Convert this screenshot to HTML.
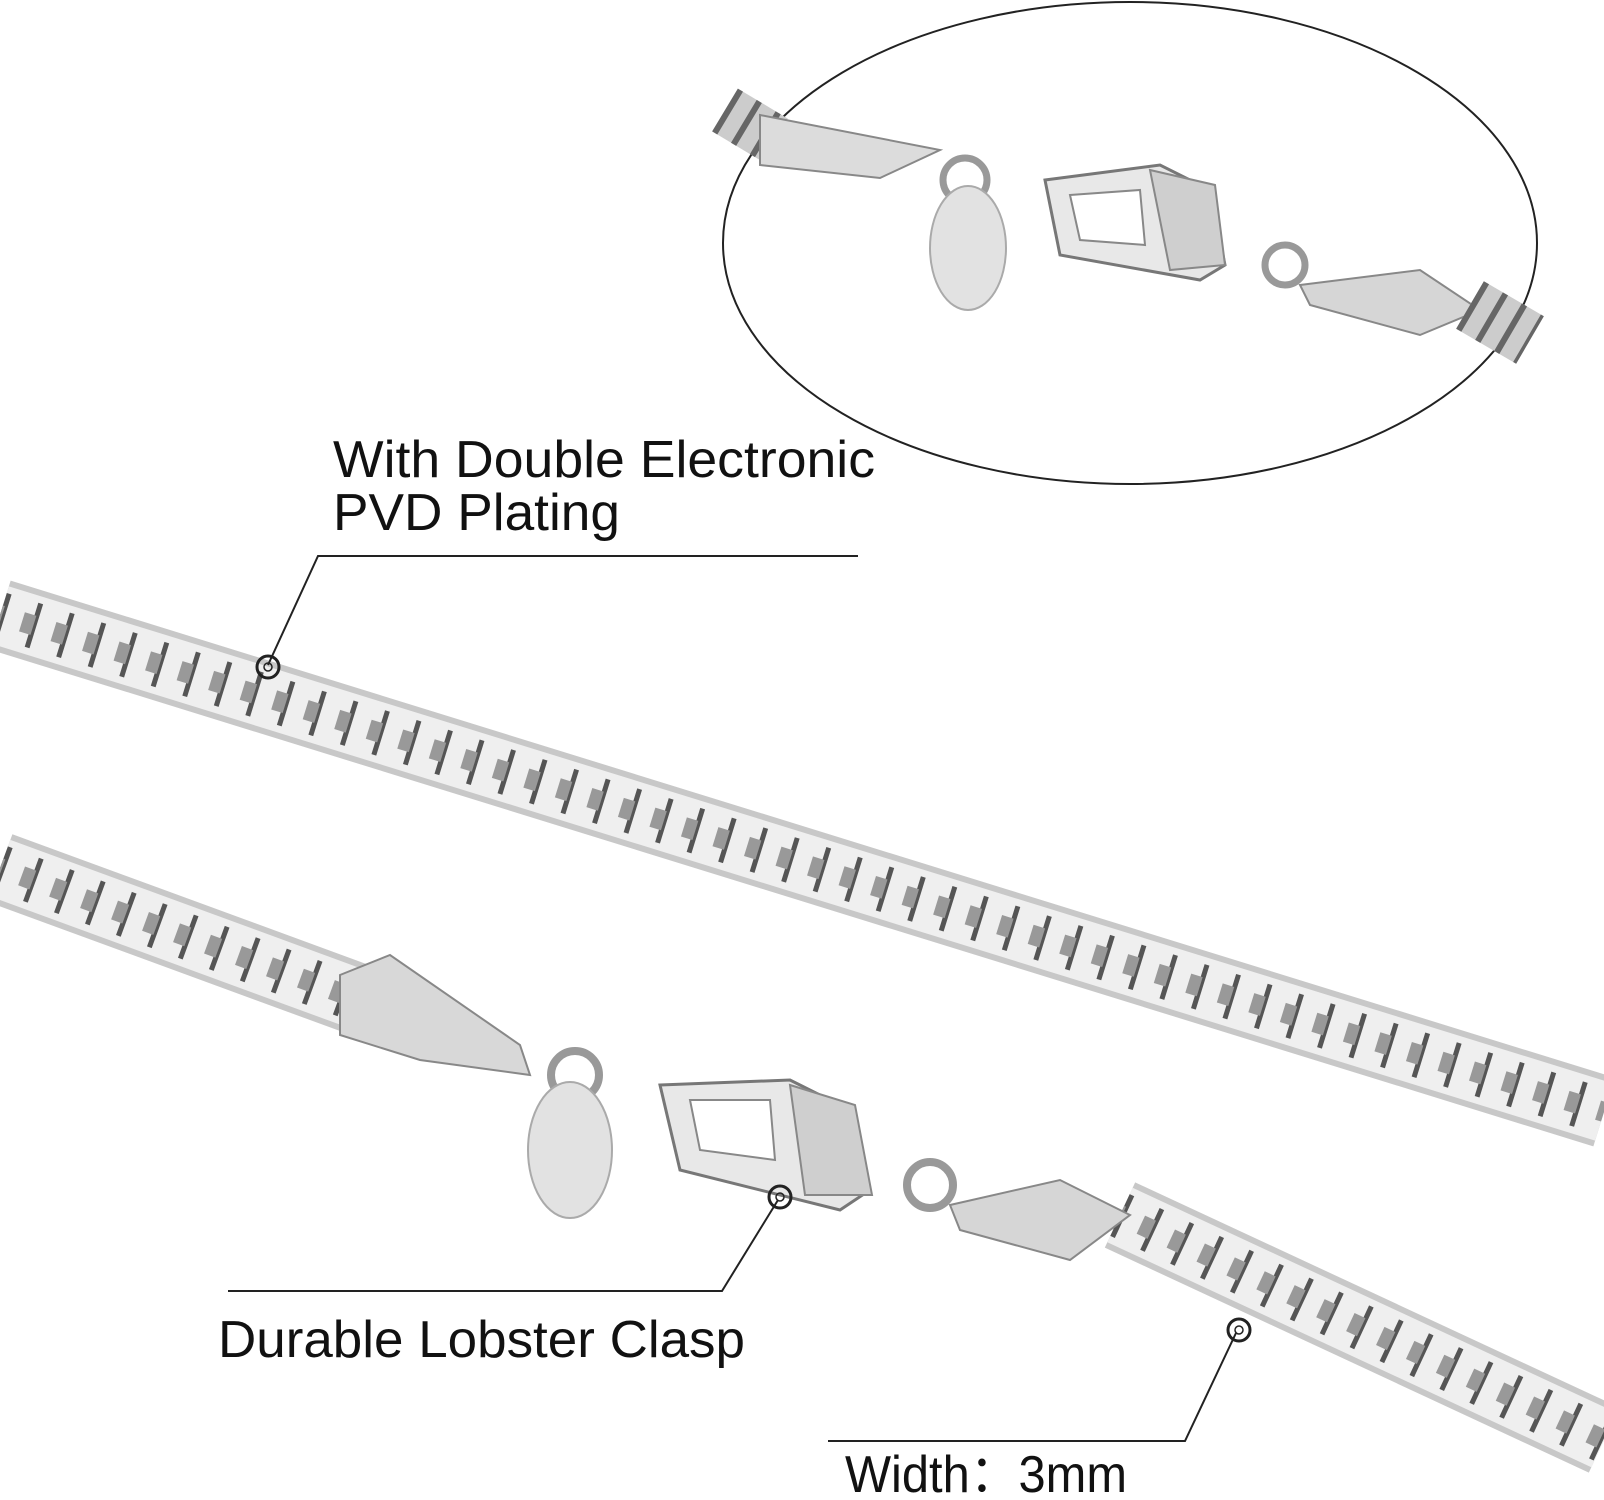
<!DOCTYPE html>
<html><head><style>
html,body{margin:0;padding:0;background:#fff}
svg{display:block}
text{font-family:"Liberation Sans",sans-serif;fill:#111}
</style></head><body>
<svg width="1604" height="1500" viewBox="0 0 1604 1500" xmlns="http://www.w3.org/2000/svg">
<ellipse cx="1130" cy="243" rx="407" ry="241" fill="none" stroke="#222" stroke-width="2"/>
<g>
<path d="M725,110 L775,140" stroke="#ccc" stroke-width="50" fill="none"/>
<path d="M725,110 L775,140" stroke="#666" stroke-width="50" stroke-dasharray="6 16" fill="none"/>
<path d="M760,115 L940,150 L880,178 L760,165 Z" fill="#dcdcdc" stroke="#888" stroke-width="2"/>
<circle cx="965" cy="180" r="22" fill="none" stroke="#999" stroke-width="7"/>
<ellipse cx="968" cy="248" rx="38" ry="62" fill="#e2e2e2" stroke="#aaa" stroke-width="2"/>
<path d="M1045,180 L1160,165 L1210,190 L1225,265 L1200,280 L1060,255 Z" fill="#e8e8e8" stroke="#777" stroke-width="3"/>
<path d="M1070,195 L1140,190 L1145,245 L1080,240 Z" fill="#fff" stroke="#888" stroke-width="2"/>
<path d="M1150,170 L1215,185 L1225,265 L1170,270 Z" fill="#cfcfcf" stroke="#888" stroke-width="2"/>
<circle cx="1285" cy="265" r="20" fill="none" stroke="#999" stroke-width="7"/>
<path d="M1300,285 L1420,270 L1480,310 L1420,335 L1310,305 Z" fill="#d6d6d6" stroke="#888" stroke-width="2"/>
<path d="M1470,305 L1530,340" stroke="#ccc" stroke-width="55" fill="none"/>
<path d="M1470,305 L1530,340" stroke="#666" stroke-width="55" stroke-dasharray="6 16" fill="none"/>
</g>
<path d="M0,615 L1604,1112" stroke="#c8c8c8" stroke-width="72" fill="none"/>
<path d="M0,615 L1604,1112" stroke="#efefef" stroke-width="60" fill="none"/>
<path d="M0,615 L1604,1112" stroke="#555" stroke-width="46" stroke-dasharray="5 28" fill="none"/>
<path d="M0,615 L1604,1112" stroke="#999" stroke-width="20" stroke-dasharray="12 21" stroke-dashoffset="10" fill="none"/>
<path d="M0,868 L360,1000" stroke="#c8c8c8" stroke-width="72" fill="none"/>
<path d="M0,868 L360,1000" stroke="#efefef" stroke-width="60" fill="none"/>
<path d="M0,868 L360,1000" stroke="#555" stroke-width="46" stroke-dasharray="5 28" fill="none"/>
<path d="M0,868 L360,1000" stroke="#999" stroke-width="20" stroke-dasharray="12 21" stroke-dashoffset="10" fill="none"/>
<path d="M1120,1215 L1604,1440" stroke="#c8c8c8" stroke-width="72" fill="none"/>
<path d="M1120,1215 L1604,1440" stroke="#efefef" stroke-width="60" fill="none"/>
<path d="M1120,1215 L1604,1440" stroke="#555" stroke-width="46" stroke-dasharray="5 28" fill="none"/>
<path d="M1120,1215 L1604,1440" stroke="#999" stroke-width="20" stroke-dasharray="12 21" stroke-dashoffset="10" fill="none"/>
<path d="M340,975 L390,955 L520,1045 L530,1075 L420,1060 L340,1035 Z" fill="#d8d8d8" stroke="#888" stroke-width="2"/>
<circle cx="575" cy="1075" r="24" fill="none" stroke="#999" stroke-width="8"/>
<ellipse cx="570" cy="1150" rx="42" ry="68" fill="#e2e2e2" stroke="#aaa" stroke-width="2"/>
<path d="M660,1085 L790,1080 L850,1110 L870,1190 L840,1210 L680,1170 Z" fill="#e8e8e8" stroke="#777" stroke-width="3"/>
<path d="M690,1100 L770,1100 L775,1160 L700,1150 Z" fill="#fff" stroke="#888" stroke-width="2"/>
<path d="M790,1085 L855,1105 L872,1195 L805,1195 Z" fill="#cfcfcf" stroke="#888" stroke-width="2"/>
<circle cx="930" cy="1185" r="23" fill="none" stroke="#999" stroke-width="8"/>
<path d="M950,1205 L1060,1180 L1130,1215 L1070,1260 L960,1230 Z" fill="#d6d6d6" stroke="#888" stroke-width="2"/>
<text x="333" y="477" font-size="52" textLength="542" lengthAdjust="spacingAndGlyphs">With Double Electronic</text>
<text x="333" y="530" font-size="52" textLength="287" lengthAdjust="spacingAndGlyphs">PVD Plating</text>
<polyline points="858,556 318,556 268,665" fill="none" stroke="#222" stroke-width="2"/>
<circle cx="268" cy="667" r="11" fill="none" stroke="#222" stroke-width="3"/>
<circle cx="268" cy="667" r="4" fill="none" stroke="#222" stroke-width="1.5"/>
<text x="218" y="1357" font-size="52" textLength="527" lengthAdjust="spacingAndGlyphs">Durable Lobster Clasp</text>
<polyline points="228,1291 722,1291 778,1200" fill="none" stroke="#222" stroke-width="2"/>
<circle cx="780" cy="1197" r="11" fill="none" stroke="#222" stroke-width="3"/>
<circle cx="780" cy="1197" r="4" fill="none" stroke="#222" stroke-width="1.5"/>
<text x="845" y="1492" font-size="52" textLength="282" lengthAdjust="spacingAndGlyphs">Width：3mm</text>
<polyline points="828,1441 1185,1441 1236,1333" fill="none" stroke="#222" stroke-width="2"/>
<circle cx="1239" cy="1330" r="11" fill="none" stroke="#222" stroke-width="3"/>
<circle cx="1239" cy="1330" r="4" fill="none" stroke="#222" stroke-width="1.5"/>
</svg>
</body></html>
